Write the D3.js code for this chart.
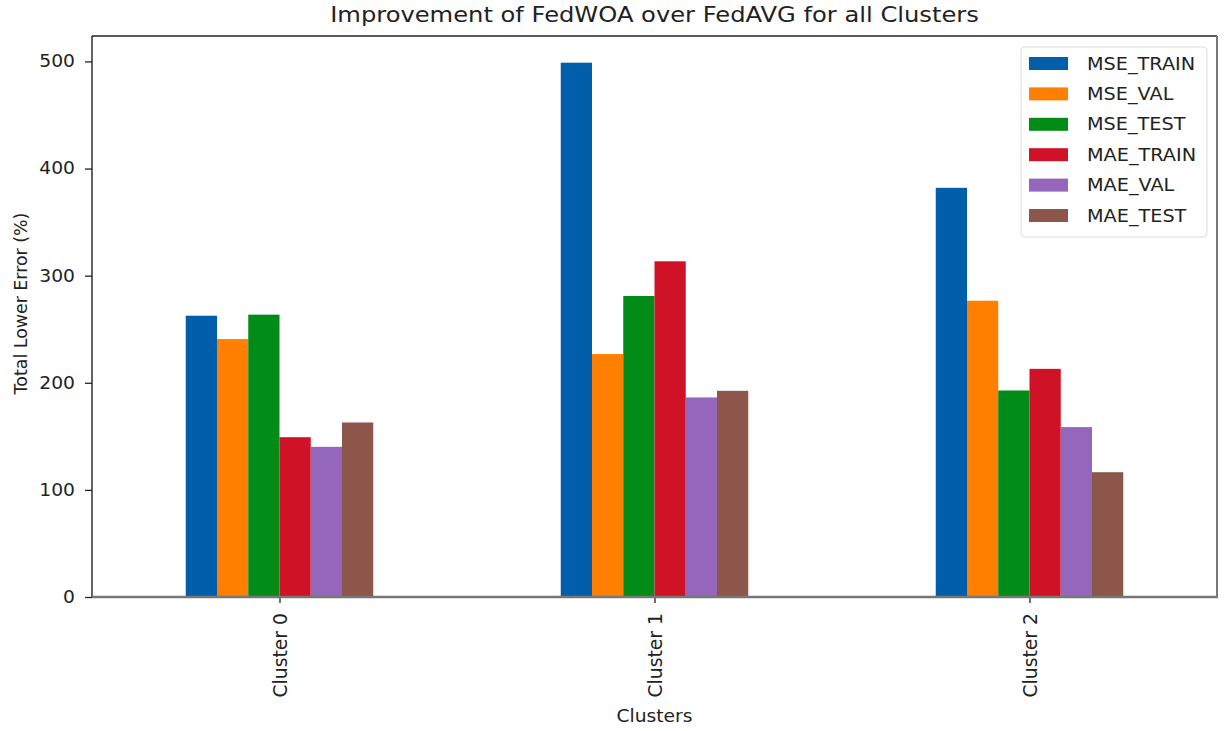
<!DOCTYPE html>
<html>
<head>
<meta charset="utf-8">
<script src="https://cdn.jsdelivr.net/npm/d3@7"></script>
<style>
  body { margin: 0; background: #fff; }
  svg text { font-family: "DejaVu Sans", sans-serif; fill: #222; }
</style>
</head>
<body>
<svg id="chart" width="1225" height="731"></svg>
<script>
// Clusters and metrics
const clusters = ["Cluster 0", "Cluster 1", "Cluster 2"];
const metrics = ["MSE_TRAIN", "MSE_VAL", "MSE_TEST", "MAE_TRAIN", "MAE_VAL", "MAE_TEST"];
const colors = ["#015eab", "#ff7f00", "#008c17", "#cf1226", "#9467bd", "#8c564b"];

// Improvement (%) per metric, one value per cluster
const mseTrain = [262.6, 498.8, 382.0];
const mseVal   = [240.8, 226.8, 276.6];
const mseTest  = [263.6, 281.0, 192.8];
const maeTrain = [149.2, 313.4, 213.0];
const maeVal   = [140.2, 186.3, 158.6];
const maeTest  = [162.9, 192.5, 116.5];
const series = [mseTrain, mseVal, mseTest, maeTrain, maeVal, maeTest];

const yTicks = [0, 100, 200, 300, 400, 500];

const svg = d3.select("#chart");
const margin = { left: 92, right: 1217, top: 36, bottom: 597 };
const sx = 1.1; // horizontal widening of upright text

// Category axis spans [-0.5, 2.5] around the cluster positions
const x = d3.scaleLinear().domain([-0.5, clusters.length - 0.5]).range([margin.left, margin.right]);
const yMax = d3.max(series.flat()) * 1.05;
const y = d3.scaleLinear().domain([0, yMax]).range([margin.bottom, margin.top]);

const groupWidth = 0.5;
const barW = groupWidth / metrics.length;

// Bars
metrics.forEach((m, j) => {
  svg.append("g").selectAll("rect")
    .data(series[j])
    .join("rect")
    .attr("x", (d, i) => x(i - groupWidth / 2 + j * barW))
    .attr("width", x(barW) - x(0))
    .attr("y", d => y(d))
    .attr("height", d => y(0) - y(d))
    .attr("fill", colors[j]);
});

// Y axis
const yAxis = svg.append("g")
  .attr("transform", `translate(${margin.left},0)`)
  .call(d3.axisLeft(y).tickValues(yTicks).tickSize(7).tickPadding(0));
yAxis.attr("font-family", null).attr("font-size", null);
yAxis.select(".domain").remove();
yAxis.selectAll(".tick line").attr("stroke", "#222").attr("stroke-width", 1.3);
yAxis.selectAll(".tick text")
  .attr("font-size", 17)
  .attr("x", null)
  .attr("transform", `translate(-17,0) scale(${sx},1)`);

// X axis
const xAxis = svg.append("g")
  .attr("transform", `translate(0,${margin.bottom})`)
  .call(d3.axisBottom(x).tickValues(clusters.map((c, i) => i)).tickFormat(i => clusters[i]).tickSize(6));
xAxis.attr("font-family", null).attr("font-size", null);
xAxis.select(".domain").remove();
xAxis.selectAll(".tick line").attr("stroke", "#222").attr("stroke-width", 1.3);
xAxis.selectAll(".tick text")
  .attr("font-size", 18.8)
  .attr("transform", "rotate(-90)")
  .attr("text-anchor", "end")
  .attr("dy", "0.35em")
  .attr("x", -16).attr("y", 0);

// Frame
svg.append("line").attr("x1", margin.left).attr("x2", margin.right).attr("y1", margin.top).attr("y2", margin.top)
  .attr("stroke", "#222").attr("stroke-width", 1.4);
svg.append("line").attr("x1", margin.left).attr("x2", margin.left).attr("y1", margin.top).attr("y2", margin.bottom)
  .attr("stroke", "#222").attr("stroke-width", 1.4);
svg.append("line").attr("x1", margin.right).attr("x2", margin.right).attr("y1", margin.top).attr("y2", margin.bottom + 1)
  .attr("stroke", "#777").attr("stroke-width", 2);
svg.append("line").attr("x1", margin.left).attr("x2", margin.right + 1).attr("y1", margin.bottom).attr("y2", margin.bottom)
  .attr("stroke", "#777").attr("stroke-width", 2.5);

// Title and axis labels
svg.append("text")
  .attr("transform", `translate(${(margin.left + margin.right) / 2},22) scale(${sx},1)`)
  .attr("text-anchor", "middle").attr("font-size", 22)
  .text("Improvement of FedWOA over FedAVG for all Clusters");
svg.append("text")
  .attr("transform", `translate(${(margin.left + margin.right) / 2},722) scale(${sx},1)`)
  .attr("text-anchor", "middle").attr("font-size", 17)
  .text("Clusters");
svg.append("text")
  .attr("transform", `translate(26.5,303.5) rotate(-90)`)
  .attr("text-anchor", "middle").attr("font-size", 17.4)
  .text("Total Lower Error (%)");

// Legend
const lg = svg.append("g").attr("transform", "translate(1021,47)");
lg.append("rect").attr("width", 186).attr("height", 190).attr("rx", 4)
  .attr("fill", "#fff").attr("fill-opacity", 0.8).attr("stroke", "#ddd");
metrics.forEach((m, j) => {
  const row = lg.append("g").attr("transform", `translate(0,${16.5 + j * 30.4})`);
  row.append("rect").attr("x", 8).attr("y", -6.5).attr("width", 39).attr("height", 13).attr("fill", colors[j]);
  row.append("text")
    .attr("transform", `translate(66,0) scale(${sx},1)`)
    .attr("dy", "0.35em")
    .attr("font-size", 17.5).text(m);
});
</script>
</body>
</html>
